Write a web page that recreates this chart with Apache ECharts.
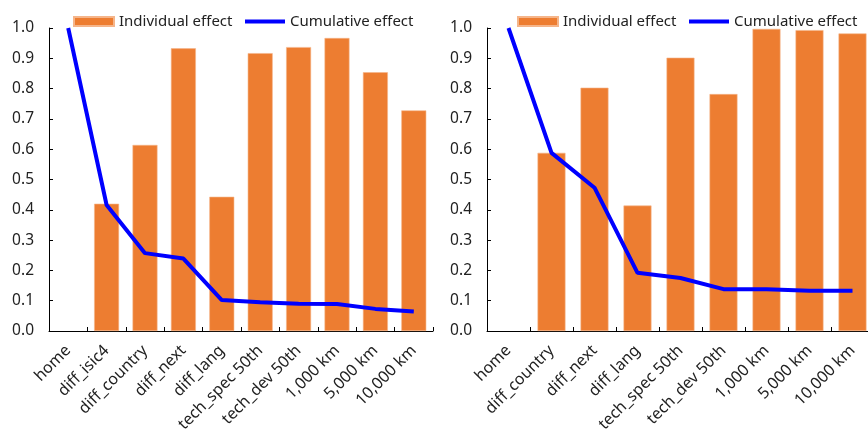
<!DOCTYPE html>
<html>
<head>
<meta charset="utf-8">
<script src="https://cdn.jsdelivr.net/npm/echarts@6/dist/echarts.min.js"></script>
<style>html,body{margin:0;padding:0;background:#fff}#c{width:868px;height:432px}</style>
</head>
<body>
<div id="c"></div>
<script>
var leftCategories = ['home','diff_isic4','diff_country','diff_next','diff_lang','tech_spec 50th','tech_dev 50th','1,000 km','5,000 km','10,000 km'];
var leftIndividual = [null,0.42,0.614,0.933,0.443,0.917,0.937,0.967,0.854,0.728];
var leftCumulative = [1.0,0.416,0.257,0.239,0.102,0.095,0.09,0.089,0.073,0.064];

var rightCategories = ['home','diff_country','diff_next','diff_lang','tech_spec 50th','tech_dev 50th','1,000 km','5,000 km','10,000 km'];
var rightIndividual = [null,0.588,0.803,0.414,0.902,0.782,0.997,0.993,0.982];
var rightCumulative = [1.0,0.588,0.473,0.192,0.175,0.138,0.138,0.133,0.133];

var yTicks = [0,0.1,0.2,0.3,0.4,0.5,0.6,0.7,0.8,0.9,1.0];

var FONT = '"Noto Sans", sans-serif';
var TXT = '#222';
var ORANGE = '#ED7D31';
var BLUE = '#0000FF';

function xAxis(idx, cats) {
  return {
    type: 'category', gridIndex: idx, data: cats, boundaryGap: true,
    axisLine: {lineStyle: {color: '#000', width: 1}},
    axisTick: {show: true, inside: true, length: 4, alignWithLabel: false, lineStyle: {color: '#000'}},
    axisLabel: {rotate: 45, interval: 0, fontSize: 16, color: TXT, fontFamily: FONT, margin: 17}
  };
}
function yAxis(idx) {
  return {
    type: 'value', gridIndex: idx, min: yTicks[0], max: yTicks[yTicks.length-1], interval: 0.1,
    axisLine: {show: true, lineStyle: {color: '#000', width: 1}},
    axisTick: {show: true, inside: true, length: 4, lineStyle: {color: '#000'}},
    splitLine: {show: false},
    axisLabel: {fontSize: 15.5, color: TXT, fontFamily: FONT, margin: 15, formatter: function(v){return v.toFixed(1);}}
  };
}
function legendItem(left, name, h) {
  return {
    left: left, top: 14, padding: 0, itemWidth: 40, itemHeight: h,
    textStyle: {fontSize: 15, color: TXT, fontFamily: FONT},
    data: [{name: name, icon: 'rect'}]
  };
}

var chart = echarts.init(document.getElementById('c'), null, {renderer: 'canvas'});
chart.setOption({
  animation: false,
  backgroundColor: '#fff',
  legend: [
    legendItem(73, 'Individual effect', 9),
    legendItem(245, 'Cumulative effect', 4),
    legendItem(517, 'Individual effect', 9),
    legendItem(689, 'Cumulative effect', 4)
  ],
  grid: [
    {left: 49, top: 28, width: 384, height: 303, containLabel: false, outerBoundsMode: 'none'},
    {left: 487, top: 28, width: 387, height: 303, containLabel: false, outerBoundsMode: 'none'}
  ],
  xAxis: [xAxis(0, leftCategories), xAxis(1, rightCategories)],
  yAxis: [yAxis(0), yAxis(1)],
  series: [
    {name: 'Individual effect', type: 'bar', xAxisIndex: 0, yAxisIndex: 0, data: leftIndividual, barWidth: '65%',
     itemStyle: {color: ORANGE, borderColor: '#F5B58A', borderWidth: 0.6}},
    {name: 'Cumulative effect', type: 'line', xAxisIndex: 0, yAxisIndex: 0, data: leftCumulative, symbol: 'none',
     lineStyle: {color: BLUE, width: 4}, itemStyle: {color: BLUE}},
    {name: 'Individual effect', type: 'bar', xAxisIndex: 1, yAxisIndex: 1, data: rightIndividual, barWidth: '65%',
     itemStyle: {color: ORANGE, borderColor: '#F5B58A', borderWidth: 0.6}},
    {name: 'Cumulative effect', type: 'line', xAxisIndex: 1, yAxisIndex: 1, data: rightCumulative, symbol: 'none',
     lineStyle: {color: BLUE, width: 4}, itemStyle: {color: BLUE}}
  ]
});
</script>
</body>
</html>
